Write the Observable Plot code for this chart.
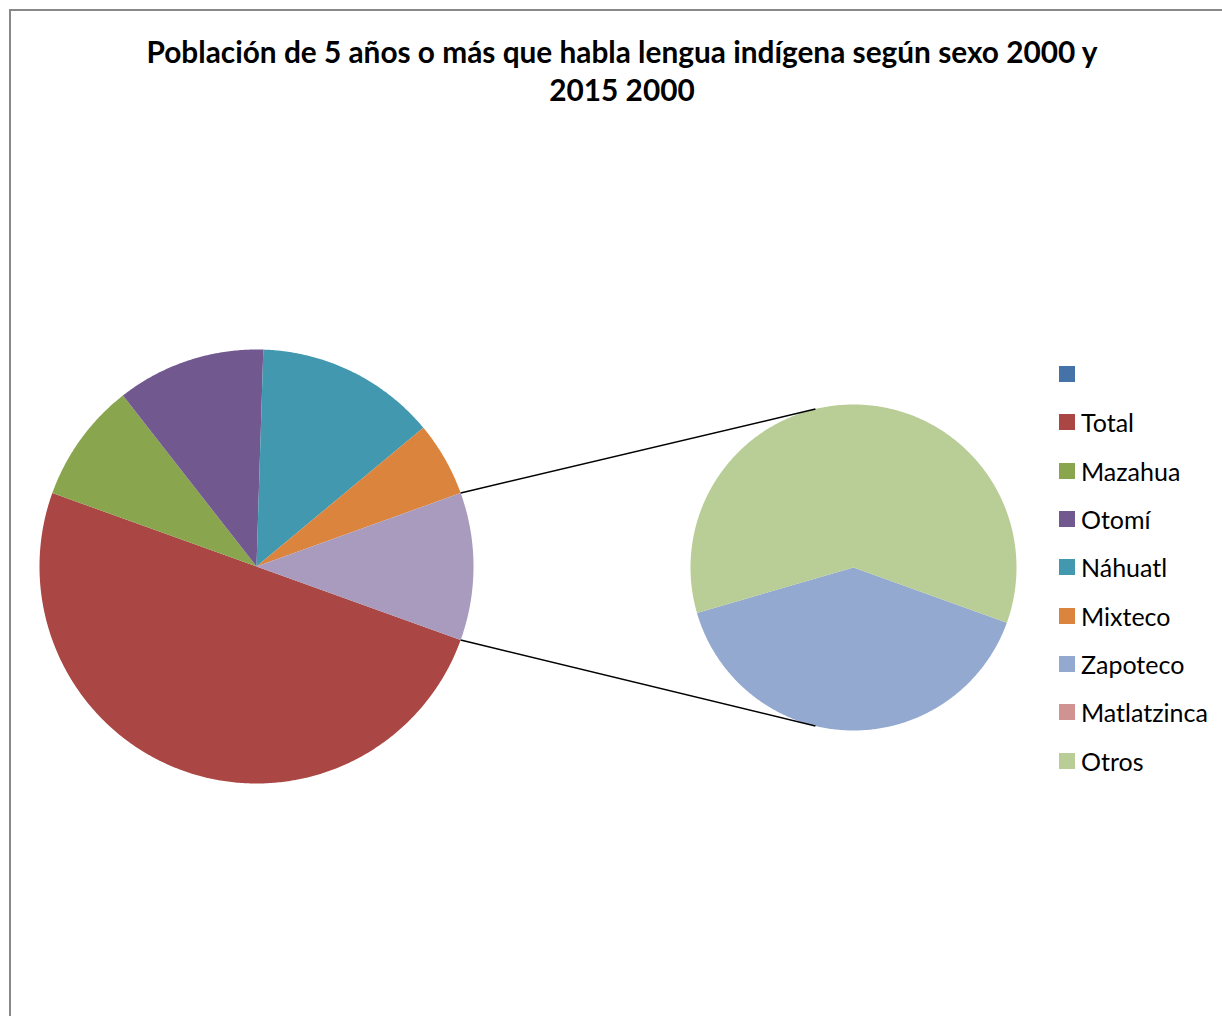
<!DOCTYPE html>
<html>
<head>
<meta charset="utf-8">
<script src="https://cdn.jsdelivr.net/npm/d3@7"></script>
<script src="https://cdn.jsdelivr.net/npm/@observablehq/plot@0.6"></script>
<style>
  html, body { margin: 0; padding: 0; background: #fff; }
  #wrap { position: relative; width: 1222px; height: 1016px; overflow: hidden; background: #fff; }
  #frame { position: absolute; left: 9px; top: 9px; width: 1400px; height: 1200px; border: 2px solid #888; box-sizing: border-box; }
  #title { position: absolute; left: 0; top: 33px; width: 1244px; text-align: center; font-family: Lato, sans-serif; font-weight: bold; font-size: 29.8px; line-height: 38px; color: #000; white-space: nowrap; }
  #chart { position: absolute; left: 0; top: 0; }
  #legend { position: absolute; left: 1059px; top: 350px; font-family: Lato, sans-serif; font-size: 25px; color: #000; }
  .row { height: 48.3px; display: flex; align-items: center; }
  .sw { width: 16px; height: 16px; margin-right: 6px; flex: none; }
</style>
</head>
<body>
<div id="wrap">
  <div id="frame"></div>
  <div id="chart"></div>
  <div id="title">Población de 5 años o más que habla lengua indígena según sexo 2000 y<br>2015 2000</div>
  <div id="legend"></div>
</div>
<script>
// ---- data ----
const categories = ["", "Total", "Mazahua", "Otomí", "Náhuatl", "Mixteco", "Zapoteco", "Matlatzinca", "Otros"];
const values     = [0, 100, 17.9, 22.1, 26.9, 11.1, 8.8, 0, 13.2];
const colors     = ["#4572A7", "#AA4643", "#89A54E", "#71588F", "#4198AF", "#DB843D", "#93A9CF", "#D19392", "#B9CD96"];
const secondaryCategories = ["Zapoteco", "Matlatzinca", "Otros"];
const otherName  = "Otro";
const otherColor = "#A99BBD";

// ---- layout ----
const W = 1222, H = 1016;
const main = {cx: 256, cy: 566, r: 217};
const sec  = {cx: 853, cy: 567, r: 163};
const connectorOffset = 13.5 * Math.PI / 180;

const primary = categories.map((name, i) => ({name, value: values[i]}))
  .filter(d => !secondaryCategories.includes(d.name));
const secondary = categories.map((name, i) => ({name, value: values[i]}))
  .filter(d => secondaryCategories.includes(d.name));
const otherValue = d3.sum(secondary, d => d.value);
const mainData = [...primary, {name: otherName, value: otherValue}];

const mainTotal = d3.sum(mainData, d => d.value);
const otherAngle = 2 * Math.PI * otherValue / mainTotal;
const start = Math.PI / 2 + otherAngle / 2;

function arcs(data, s) {
  return d3.pie().sort(null).value(d => d.value).startAngle(s).endAngle(s + 2 * Math.PI)(data);
}
function polygon(arc, c, key) {
  const pts = [{key, name: arc.data.name, x: c.cx, y: c.cy}];
  const n = Math.max(2, Math.ceil((arc.endAngle - arc.startAngle) / (Math.PI / 360)));
  for (let k = 0; k <= n; k++) {
    const a = arc.startAngle + (arc.endAngle - arc.startAngle) * k / n;
    pts.push({key, name: arc.data.name, x: c.cx + c.r * Math.sin(a), y: c.cy - c.r * Math.cos(a)});
  }
  return pts;
}
const mainArcs = arcs(mainData, start).filter(a => a.data.value > 0);
const secArcs  = arcs(secondary, start).filter(a => a.data.value > 0);
const rows = [
  ...mainArcs.flatMap((a, i) => polygon(a, main, "m" + i)),
  ...secArcs.flatMap((a, i) => polygon(a, sec, "s" + i))
];

const otherArc = mainArcs.find(a => a.data.name === otherName);
const connectors = [
  {a1: otherArc.startAngle, a2: -connectorOffset},
  {a1: otherArc.endAngle, a2: Math.PI + connectorOffset}
].map(d => ({
  x1: main.cx + main.r * Math.sin(d.a1), y1: main.cy - main.r * Math.cos(d.a1),
  x2: sec.cx + sec.r * Math.sin(d.a2),  y2: sec.cy - sec.r * Math.cos(d.a2)
}));

const chart = Plot.plot({
  width: W, height: H,
  margin: 0,
  x: {domain: [0, W], range: [0, W], axis: null},
  y: {domain: [0, H], range: [0, H], axis: null},
  color: {domain: [...categories, otherName], range: [...colors, otherColor]},
  style: {background: "transparent"},
  marks: [
    Plot.line(rows, {x: "x", y: "y", z: "key", fill: "name", stroke: "none", curve: "linear-closed"}),
    Plot.link(connectors, {x1: "x1", y1: "y1", x2: "x2", y2: "y2", stroke: "#000", strokeWidth: 1.5})
  ]
});
document.getElementById("chart").appendChild(chart);

// ---- legend ----
const legend = document.getElementById("legend");
categories.forEach((name, i) => {
  const row = document.createElement("div");
  row.className = "row";
  const sw = document.createElement("div");
  sw.className = "sw";
  sw.style.background = colors[i];
  const label = document.createElement("span");
  label.textContent = name;
  row.appendChild(sw);
  row.appendChild(label);
  legend.appendChild(row);
});
</script>
</body>
</html>
